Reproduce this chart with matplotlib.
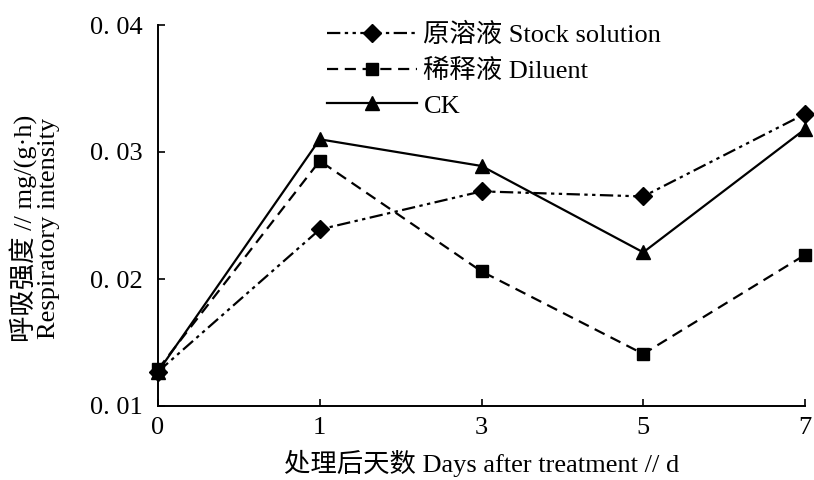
import matplotlib
matplotlib.use("Agg")
import matplotlib.pyplot as plt

plt.rcParams['font.family'] = ['Liberation Serif', 'Noto Sans CJK SC']

days = ['0', '1', '3', '5', '7']
stock = [0.0127, 0.0239, 0.0269, 0.0265, 0.0330]
diluent = [0.0129, 0.0293, 0.0206, 0.0141, 0.0219]
ck = [0.0127, 0.0310, 0.0289, 0.0221, 0.0318]
y_ticks = [0.01, 0.02, 0.03, 0.04]
y_tick_labels = ['0. 01', '0. 02', '0. 03', '0. 04']

fig = plt.figure(figsize=(8.14, 4.80), dpi=100)
ax = fig.add_axes([158/814, 1-406/480, (805-158)/814, (406-25)/480])

x = list(range(len(days)))
ax.plot(x, stock, color='black', linestyle=(0, (6, 2, 1.5, 2, 1.5, 2)), lw=1.6,
        marker='D', markersize=9, clip_on=False, label='原溶液 Stock solution')
ax.plot(x, diluent, color='black', linestyle=(0, (5, 3)), lw=1.6,
        marker='s', markersize=9, clip_on=False, label='稀释液 Diluent')
ax.plot(x, ck, color='black', linestyle='-', lw=1.6,
        marker='^', markersize=10, clip_on=False, label='CK')

ax.set_xlim(0, len(days) - 1)
ax.set_ylim(0.01, 0.04)
ax.set_xticks(x)
ax.set_xticklabels(days)
ax.set_yticks(y_ticks)
ax.set_yticklabels(y_tick_labels)
ax.tick_params(direction='in', labelsize=19, length=5, width=1.2)
ax.tick_params(axis='x', pad=8)
ax.tick_params(axis='y', pad=11)

for s in ['top', 'right']:
    ax.spines[s].set_visible(False)
for s in ['left', 'bottom']:
    ax.spines[s].set_linewidth(1.4)

ax.set_xlabel('处理后天数 Days after treatment // d', fontsize=19, labelpad=8)
ax.set_ylabel('呼吸强度 // mg/(g·h)\nRespiratory intensity', fontsize=19,
              linespacing=1.0)
ax.yaxis.set_label_coords(-0.152, 0.467)

leg = ax.legend(loc='upper left', bbox_to_anchor=(0.245, 1.033), frameon=False,
                fontsize=19, handlelength=3.4, handletextpad=0.25,
                labelspacing=0.43, borderaxespad=0)

fig.savefig('out.png', dpi=100)
